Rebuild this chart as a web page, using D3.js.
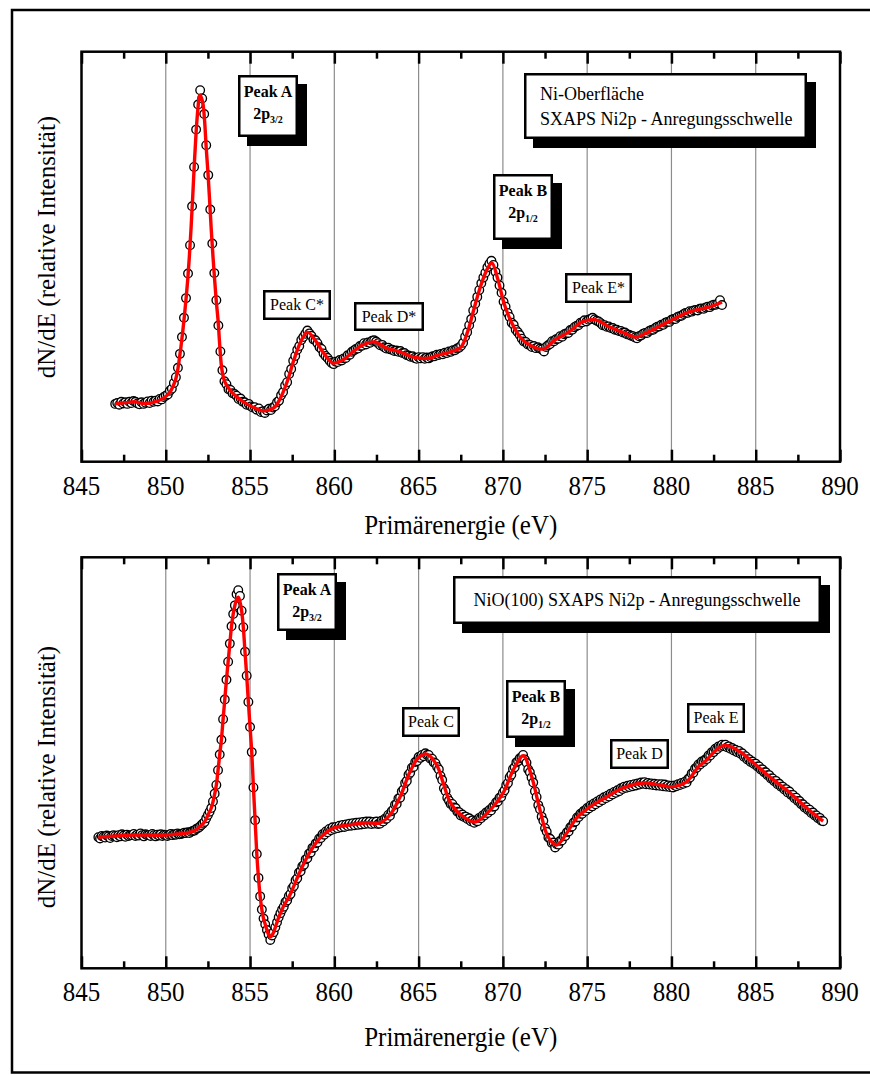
<!DOCTYPE html>
<html>
<head>
<meta charset="utf-8">
<script src="https://cdn.jsdelivr.net/npm/d3@7"></script>
<style>
  body { margin: 0; background: #fff; }
  svg { display: block; }
  svg text { font-family: "Liberation Serif", "Times New Roman", Times, serif; fill: #000; }
</style>
</head>
<body>
<svg id="chart" width="870" height="1075"></svg>
<script>
// ---- axis ticks (Primärenergie, eV) ----
const energyTicks = [845, 850, 855, 860, 865, 870, 875, 880, 885, 890];
const minorTicks = [847.5, 852.5, 857.5, 862.5, 867.5, 872.5, 877.5, 882.5, 887.5];
const gridLines = [850, 855, 860, 865, 870, 875, 880, 885];

// ---- Ni surface: measured dN/dE, one point every 0.12 eV from 847.0 eV ----
const niStart = 847.0;
const niStep = 0.12;
const niCounts = [
  14.1,14.3,13.9,14.6,14.2,14.5,14.1,14.6,14.3,14.8,
  14.6,14.2,14.0,14.5,14.1,14.4,14.7,14.3,14.9,14.6,
  14.9,14.7,15.3,15.2,15.8,16.1,16.4,17.3,17.8,19.2,
  20.6,22.9,26.3,30.4,35.1,39.9,45.9,52.8,62.3,71.9,
  81.0,87.1,90.6,88.6,84.8,77.2,69.9,61.5,53.2,46.0,
  39.4,33.2,26.9,22.3,19.6,18.9,17.7,17.5,16.7,16.5,
  16.1,15.3,15.4,14.6,14.5,13.9,14.1,13.5,13.2,13.3,
  12.7,13.0,12.1,12.3,11.9,12.5,12.9,12.6,13.2,13.5,
  14.5,14.9,16.2,17.0,18.6,19.4,21.4,22.6,24.6,25.8,
  27.3,28.2,29.7,30.4,31.2,32.0,31.3,30.7,29.8,29.6,
  28.9,27.9,27.5,26.4,25.8,25.3,24.6,24.1,23.8,24.4,
  24.3,24.8,24.7,25.2,25.3,26.0,26.1,26.8,27.1,27.5,
  27.6,28.2,28.3,28.9,28.6,29.1,29.0,29.5,29.6,29.3,
  28.9,28.4,28.5,27.9,27.6,27.8,27.4,27.3,27.0,27.1,
  26.8,27.0,26.5,26.5,26.0,25.9,25.6,25.7,25.3,25.1,
  25.5,25.2,25.5,25.1,25.4,25.2,25.5,25.7,25.7,26.1,
  26.0,26.3,26.2,26.6,26.5,26.9,26.8,27.2,27.2,27.6,
  27.8,28.3,29.0,30.5,31.6,33.3,34.8,36.9,38.5,40.2,
  41.9,43.5,44.9,46.1,47.4,48.3,49.0,48.0,46.3,44.9,
  43.0,41.2,39.0,37.8,36.3,35.3,33.9,33.4,32.2,31.6,
  30.9,30.0,29.3,29.2,28.6,28.5,28.0,28.2,27.7,27.9,
  27.6,27.4,26.9,28.0,28.4,28.7,29.4,29.4,29.9,30.0,
  30.6,30.5,31.1,31.3,31.4,32.1,32.2,32.8,33.1,33.3,
  33.9,34.0,34.5,34.2,34.6,34.8,35.1,34.7,34.4,34.2,
  33.8,33.3,33.3,32.9,33.0,32.6,32.6,32.2,32.2,31.9,
  31.9,31.5,31.5,31.1,31.0,30.7,30.6,30.3,30.1,30.6,
  30.8,31.2,31.4,31.4,31.9,32.1,32.2,32.6,32.9,33.0,
  33.4,33.4,33.9,34.1,34.1,34.6,34.8,34.8,35.3,35.5,
  35.6,36.0,36.3,36.3,36.7,36.6,36.9,37.0,36.9,37.3,
  37.4,37.3,37.6,37.8,37.7,38.1,38.3,38.3,38.6,39.4,
  38.2
];
// Ni surface: fitted curve
const niFitEnergy = [
  847.0, 847.6, 848.2, 848.7, 849.5, 850.0, 850.3, 850.5, 850.6, 850.7, 850.8, 850.9,
  851.0, 851.1, 851.2, 851.3, 851.4, 851.5, 851.6, 851.7, 851.8, 851.9, 852.0, 852.05,
  852.1, 852.2, 852.3, 852.4, 852.5, 852.6, 852.7, 852.8, 852.9, 853.0, 853.1, 853.2,
  853.3, 853.4, 853.5, 853.8, 854.3, 854.8, 855.4, 855.8, 856.4, 856.8, 857.2, 857.6,
  858.0, 858.4, 858.9, 859.4, 859.9, 860.5, 861.1, 861.7, 862.4, 863.1, 863.9, 864.7,
  865.7, 866.0, 866.9, 867.5, 867.9, 868.3, 868.7, 869.1, 869.35, 869.7, 870.1, 870.5,
  871.1, 871.7, 872.4, 873.1, 873.9, 874.7, 875.5, 876.3, 877.1, 877.9, 878.6, 879.8,
  881.0, 882.2, 883.0
];
const niFitCounts = [
  14.1, 14.4, 14.6, 14.2, 14.8, 15.9, 17.3, 19.1, 20.3, 22.2, 24.9, 28.0,
  31.5, 35.4, 39.6, 44.3, 50.1, 57.0, 64.8, 73.1, 80.4, 85.8, 89.2, 89.4,
  88.9, 87.5, 83.3, 76.5, 70.7, 63.8, 56.5, 50.1, 44.3, 39.0, 34.6, 28.5,
  23.4, 20.9, 19.5, 17.5, 15.5, 14.1, 12.9, 12.4, 13.1, 15.5, 19.5, 24.8,
  29.2, 31.6, 29.4, 26.3, 24.1, 24.8, 26.8, 28.5, 29.2, 27.7, 26.8, 25.5,
  25.3, 25.8, 26.8, 27.9, 31.6, 37.5, 43.1, 47.2, 48.5, 44.5, 38.2, 34.1,
  30.0, 28.2, 27.5, 29.7, 31.6, 34.1, 34.6, 32.9, 31.6, 30.4, 31.6, 34.1,
  36.5, 37.7, 38.9
];

// ---- NiO(100): measured dN/dE, one point every 0.1 eV from 846.0 eV ----
const nioStart = 846.0;
const nioStep = 0.1;
const nioCounts = [
  31.9,31.6,32.2,32.0,31.8,32.3,32.1,31.7,32.2,32.4,
  32.2,31.9,32.4,32.1,32.6,32.3,32.0,32.5,32.2,32.4,
  32.4,32.7,32.2,32.5,32.3,32.8,32.4,32.1,32.6,32.4,
  32.4,32.2,32.7,32.4,32.1,32.5,32.3,32.6,32.2,32.5,
  32.4,32.2,32.5,32.7,32.4,32.6,32.5,32.8,32.6,32.7,
  32.8,33.0,32.9,33.1,32.9,33.2,33.4,33.5,33.9,34.1,
  34.4,34.8,35.2,35.6,36.5,37.3,38.1,39.0,40.6,42.5,
  44.6,48.2,52.0,55.6,60.6,65.4,70.2,74.6,79.0,83.2,
  86.2,88.3,91.0,92.0,90.6,87.0,83.0,77.0,71.2,64.8,
  58.7,52.6,44.0,36.0,27.8,22.0,17.5,14.3,12.1,10.7,
  9.3,8.2,6.9,8.0,8.8,10.0,11.2,12.4,13.4,14.3,
  15.0,16.1,16.5,17.6,18.1,19.5,20.0,21.4,21.9,23.3,
  23.6,24.8,25.2,26.5,26.8,27.9,28.2,29.3,29.4,30.4,
  30.6,31.6,31.7,32.6,32.5,33.3,33.1,33.9,33.6,34.3,
  33.9,34.4,34.1,34.7,34.3,34.9,34.4,35.0,34.6,35.2,
  34.7,35.3,34.8,35.4,34.9,35.5,35.0,35.6,35.1,35.7,
  35.2,35.7,35.1,35.6,35.2,35.7,35.1,35.2,35.9,35.7,
  36.4,36.4,37.3,37.1,38.2,38.6,39.8,40.0,41.3,41.5,
  43.0,43.5,45.1,45.6,47.1,47.6,48.8,49.0,50.2,50.4,
  51.4,51.2,51.9,51.6,52.3,51.9,51.9,51.0,51.0,50.1,
  49.9,49.0,48.4,46.8,45.8,43.8,43.1,41.5,40.8,40.0,
  40.0,39.1,39.0,38.1,38.0,37.2,37.4,36.8,36.9,36.3,
  36.5,35.8,36.0,35.4,35.9,35.8,36.6,36.5,37.2,37.2,
  37.9,37.8,38.5,38.4,39.3,39.4,40.4,40.6,41.5,41.7,
  42.7,43.3,44.6,45.1,46.5,47.1,48.5,48.9,50.1,50.4,
  51.1,51.3,51.9,50.8,50.0,48.4,47.7,46.4,45.2,43.1,
  41.7,39.7,38.7,36.9,35.9,34.1,33.2,31.8,31.5,30.5,
  30.6,29.4,30.2,30.1,31.0,31.1,32.1,32.2,33.1,33.3,
  34.3,34.5,35.5,35.7,36.7,36.8,37.6,37.6,38.3,38.3,
  39.0,38.9,39.6,39.4,40.1,39.9,40.6,40.4,41.1,40.9,
  41.6,41.4,42.0,41.8,42.5,42.3,42.9,42.7,43.3,43.1,
  43.8,43.6,44.2,43.9,44.4,44.1,44.6,44.3,44.8,44.5,
  45.0,44.7,45.2,44.9,45.3,44.8,45.1,44.7,45.0,44.6,
  44.9,44.5,44.8,44.4,44.8,44.3,44.7,44.2,44.5,44.1,
  44.4,44.0,44.5,44.3,44.8,44.6,45.1,44.9,45.4,45.2,
  46.1,46.4,47.4,47.6,48.6,48.8,49.6,49.6,50.3,50.2,
  50.8,50.9,51.8,51.8,52.6,52.6,53.4,53.3,54.0,53.9,
  54.4,54.1,54.4,53.8,54.0,53.4,53.6,53.0,53.2,52.6,
  52.9,52.2,52.3,51.5,51.6,50.8,50.9,50.2,50.3,49.7,
  49.8,49.1,49.1,48.4,48.4,47.7,47.7,47.0,47.0,46.2,
  46.2,45.5,45.6,44.8,44.9,44.2,44.2,43.5,43.6,42.8,
  43.0,42.2,42.2,41.4,41.5,40.7,40.7,39.9,39.9,39.1,
  39.2,38.5,38.6,37.8,37.9,37.2,37.2,36.5,36.6,35.9,
  35.8
];
// NiO(100): fitted curve
const nioFitEnergy = [
  846.0, 847.0, 848.0, 850.0, 850.5, 851.2, 851.7, 852.0, 852.3, 852.5, 852.7, 852.85,
  853.0, 853.1, 853.2, 853.3, 853.4, 853.5, 853.6, 853.7, 853.8, 853.9, 854.0, 854.1,
  854.2, 854.3, 854.4, 854.5, 854.6, 854.7, 854.8, 854.9, 855.0, 855.1, 855.2, 855.3,
  855.4, 855.5, 855.6, 855.7, 855.8, 855.9, 856.0, 856.1, 856.2, 856.3, 856.4, 856.5,
  856.6, 856.7, 856.8, 856.9, 857.0, 857.37, 857.96, 858.56, 859.15, 859.94, 860.93, 861.92,
  862.71, 863.3, 863.9, 864.49, 864.98, 865.48, 866.07, 866.46, 866.86, 867.46, 868.35, 869.24,
  870.02, 870.62, 871.21, 871.71, 872.2, 872.69, 873.19, 873.79, 874.38, 875.17, 876.16, 877.14,
  878.33, 879.32, 880.11, 880.9, 881.59, 882.09, 882.6, 883.18, 884.07, 884.86, 886.04, 887.03,
  888.02, 889.0
];
const nioFitCounts = [
  31.9, 32.2, 32.4, 32.4, 32.6, 32.9, 33.5, 34.4, 35.6, 37.3, 39.0, 41.4,
  44.6, 48.2, 52.0, 55.6, 60.6, 65.4, 70.2, 74.6, 79.0, 83.2, 86.2, 88.3,
  89.8, 90.3, 89.2, 87.0, 83.0, 77.0, 71.2, 64.8, 58.7, 52.6, 44.0, 36.0,
  27.8, 22.0, 17.5, 14.3, 12.1, 10.7, 9.3, 8.2, 7.6, 8.0, 8.8, 10.0,
  11.2, 12.4, 13.4, 14.3, 15.2, 17.9, 23.5, 28.3, 31.7, 34.1, 34.9, 35.4,
  35.4, 37.3, 41.7, 47.8, 51.2, 52.1, 49.5, 45.1, 40.5, 37.5, 35.6, 38.5,
  42.7, 48.3, 51.7, 46.6, 38.5, 31.9, 30.0, 32.9, 36.6, 39.3, 41.7, 43.9,
  45.1, 44.6, 44.2, 45.4, 49.0, 50.7, 52.9, 54.3, 52.7, 50.0, 45.9, 42.7,
  39.0, 35.8
];

// ---- annotation texts ----
const niAnnotations = [
  { title: "Peak A", orbital: "2p", sub: "3/2" },
  { title: "Peak B", orbital: "2p", sub: "1/2" },
  { title: "Peak C*" }, { title: "Peak D*" }, { title: "Peak E*" }
];
const niInfo = ["Ni-Oberfläche", "SXAPS Ni2p - Anregungsschwelle"];
const nioAnnotations = [
  { title: "Peak A", orbital: "2p", sub: "3/2" },
  { title: "Peak B", orbital: "2p", sub: "1/2" },
  { title: "Peak C" }, { title: "Peak D" }, { title: "Peak E" }
];
const nioInfo = ["NiO(100) SXAPS Ni2p - Anregungsschwelle"];

const xTitle = "Primärenergie (eV)";
const yTitle = "dN/dE (relative Intensität)";

// ---- layout ----
const serif = "Liberation Serif, Times New Roman, serif";
const plotLeft = 81.5, plotRight = 840;
const textStretch = 1.1;
const panels = [
  {
    top: 51.7, bottom: 461.7, yTitleCenter: 247, xTitleGap: 72,
    start: niStart, step: niStep, counts: niCounts,
    fitE: niFitEnergy, fitC: niFitCounts,
    notes: niAnnotations, info: niInfo,
    noteBoxes: [[238, 75, 60, 62], [493, 174, 60, 66], [263, 290, 68, 30], [354, 302, 70, 29], [565, 273, 67, 30]],
    infoBox: [524, 73, 283, 66], infoAlign: "start"
  },
  {
    top: 557.3, bottom: 968.3, yTitleCenter: 777, xTitleGap: 78,
    start: nioStart, step: nioStep, counts: nioCounts,
    fitE: nioFitEnergy, fitC: nioFitCounts,
    notes: nioAnnotations, info: nioInfo,
    noteBoxes: [[277, 573, 60, 58], [506, 680, 60, 58], [402, 707, 58, 30], [610, 739, 59, 30], [687, 703, 58, 30]],
    infoBox: [453, 576, 368, 48], infoAlign: "middle"
  }
];

const svg = d3.select("#chart");
const x = d3.scaleLinear().domain([845, 890]).range([plotLeft, plotRight]);

// outer frame of the figure
svg.append("rect")
  .attr("x", 12).attr("y", 10).attr("width", 900).attr("height", 1062.5)
  .attr("fill", "none").attr("stroke", "#000").attr("stroke-width", 2.5);

function drawBox(g, b, shadow) {
  const [bx, by, bw, bh] = b;
  if (shadow) {
    g.append("rect").attr("x", bx + 9).attr("y", by + 9).attr("width", bw).attr("height", bh).attr("fill", "#000");
  }
  g.append("rect").attr("x", bx + 1.25).attr("y", by + 1.25).attr("width", bw - 2.5).attr("height", bh - 2.5)
    .attr("fill", "#fff").attr("stroke", "#000").attr("stroke-width", 2.5);
}

function tickAxis(g, axisFn, yPos, values, size) {
  const a = g.append("g").attr("transform", `translate(0,${yPos})`)
    .call(axisFn(x).tickValues(values).tickSizeInner(size).tickSizeOuter(0).tickFormat(""));
  a.select(".domain").remove();
  a.selectAll(".tick line").attr("stroke-width", 2.5);
  a.selectAll(".tick text").remove();
  return a;
}

panels.forEach(p => {
  const y = d3.scaleLinear().domain([0, 100]).range([p.bottom, p.top]);
  const g = svg.append("g");

  // vertical grid
  g.append("g").selectAll("line").data(gridLines).join("line")
    .attr("x1", d => x(d)).attr("x2", d => x(d))
    .attr("y1", p.top).attr("y2", p.bottom)
    .attr("stroke", "#8c8c8c").attr("stroke-width", 1.2);

  // inward ticks on bottom and top edges
  tickAxis(g, d3.axisBottom, p.bottom, energyTicks, -12);
  tickAxis(g, d3.axisBottom, p.bottom, minorTicks, -7);
  tickAxis(g, d3.axisTop, p.top, energyTicks, -12);
  tickAxis(g, d3.axisTop, p.top, minorTicks, -7);

  // tick labels
  g.append("g").selectAll("text").data(energyTicks).join("text")
    .attr("transform", d => `translate(${x(d)},${p.bottom + 33}) scale(1,${textStretch})`)
    .attr("text-anchor", "middle")
    .attr("font-family", serif).attr("font-size", 25)
    .text(d3.format("d"));

  // plot frame
  g.append("rect").attr("x", plotLeft).attr("y", p.top)
    .attr("width", plotRight - plotLeft).attr("height", p.bottom - p.top)
    .attr("fill", "none").attr("stroke", "#000").attr("stroke-width", 2.5);

  // measured points
  const pts = p.counts.map((c, i) => ({ e: p.start + i * p.step, c }));
  g.append("g").selectAll("circle").data(pts).join("circle")
    .attr("cx", d => x(d.e)).attr("cy", d => y(d.c)).attr("r", 4.3)
    .attr("fill", "#fff").attr("stroke", "#000").attr("stroke-width", 1.35);

  // fitted curve
  const fit = p.fitE.map((e, i) => [e, p.fitC[i]]);
  g.append("path").datum(fit)
    .attr("d", d3.line().x(d => x(d[0])).y(d => y(d[1])).curve(d3.curveCatmullRom.alpha(0.5)))
    .attr("fill", "none").attr("stroke", "#ff0000").attr("stroke-width", 3.4).attr("stroke-linejoin", "round");

  // peak annotations
  p.notes.forEach((n, i) => {
    const b = p.noteBoxes[i];
    const bold = !!n.orbital;
    drawBox(g, b, bold);
    const cx = b[0] + b[2] / 2;
    if (bold) {
      g.append("text").attr("x", cx).attr("y", b[1] + 21.5).attr("text-anchor", "middle")
        .attr("font-family", serif).attr("font-size", 16).attr("font-weight", "bold").text(n.title);
      const t = g.append("text").attr("x", cx).attr("y", b[1] + 44).attr("text-anchor", "middle")
        .attr("font-family", serif).attr("font-size", 16).attr("font-weight", "bold");
      t.append("tspan").text(n.orbital);
      t.append("tspan").attr("dy", 4).attr("font-size", 10).text(n.sub);
    } else {
      g.append("text").attr("x", cx).attr("y", b[1] + 19.5).attr("text-anchor", "middle")
        .attr("font-family", serif).attr("font-size", 16).text(n.title);
    }
  });

  // sample info box
  drawBox(g, p.infoBox, true);
  const ib = p.infoBox;
  p.info.forEach((line, i) => {
    const tx = p.infoAlign === "start" ? ib[0] + 16 : ib[0] + ib[2] / 2;
    const ty = p.info.length > 1 ? ib[1] + 27 + i * 25 : ib[1] + 30;
    g.append("text").attr("x", tx).attr("y", ty).attr("text-anchor", p.infoAlign)
      .attr("font-family", serif).attr("font-size", 18).text(line);
  });

  // axis titles
  g.append("text")
    .attr("transform", `translate(${(plotLeft + plotRight) / 2},${p.bottom + p.xTitleGap}) scale(1,${textStretch})`)
    .attr("text-anchor", "middle").attr("font-family", serif).attr("font-size", 25).text(xTitle);
  g.append("text").attr("transform", `translate(54.5,${p.yTitleCenter}) rotate(-90)`)
    .attr("text-anchor", "middle").attr("font-family", serif).attr("font-size", 25).text(yTitle);
});
</script>
</body>
</html>
